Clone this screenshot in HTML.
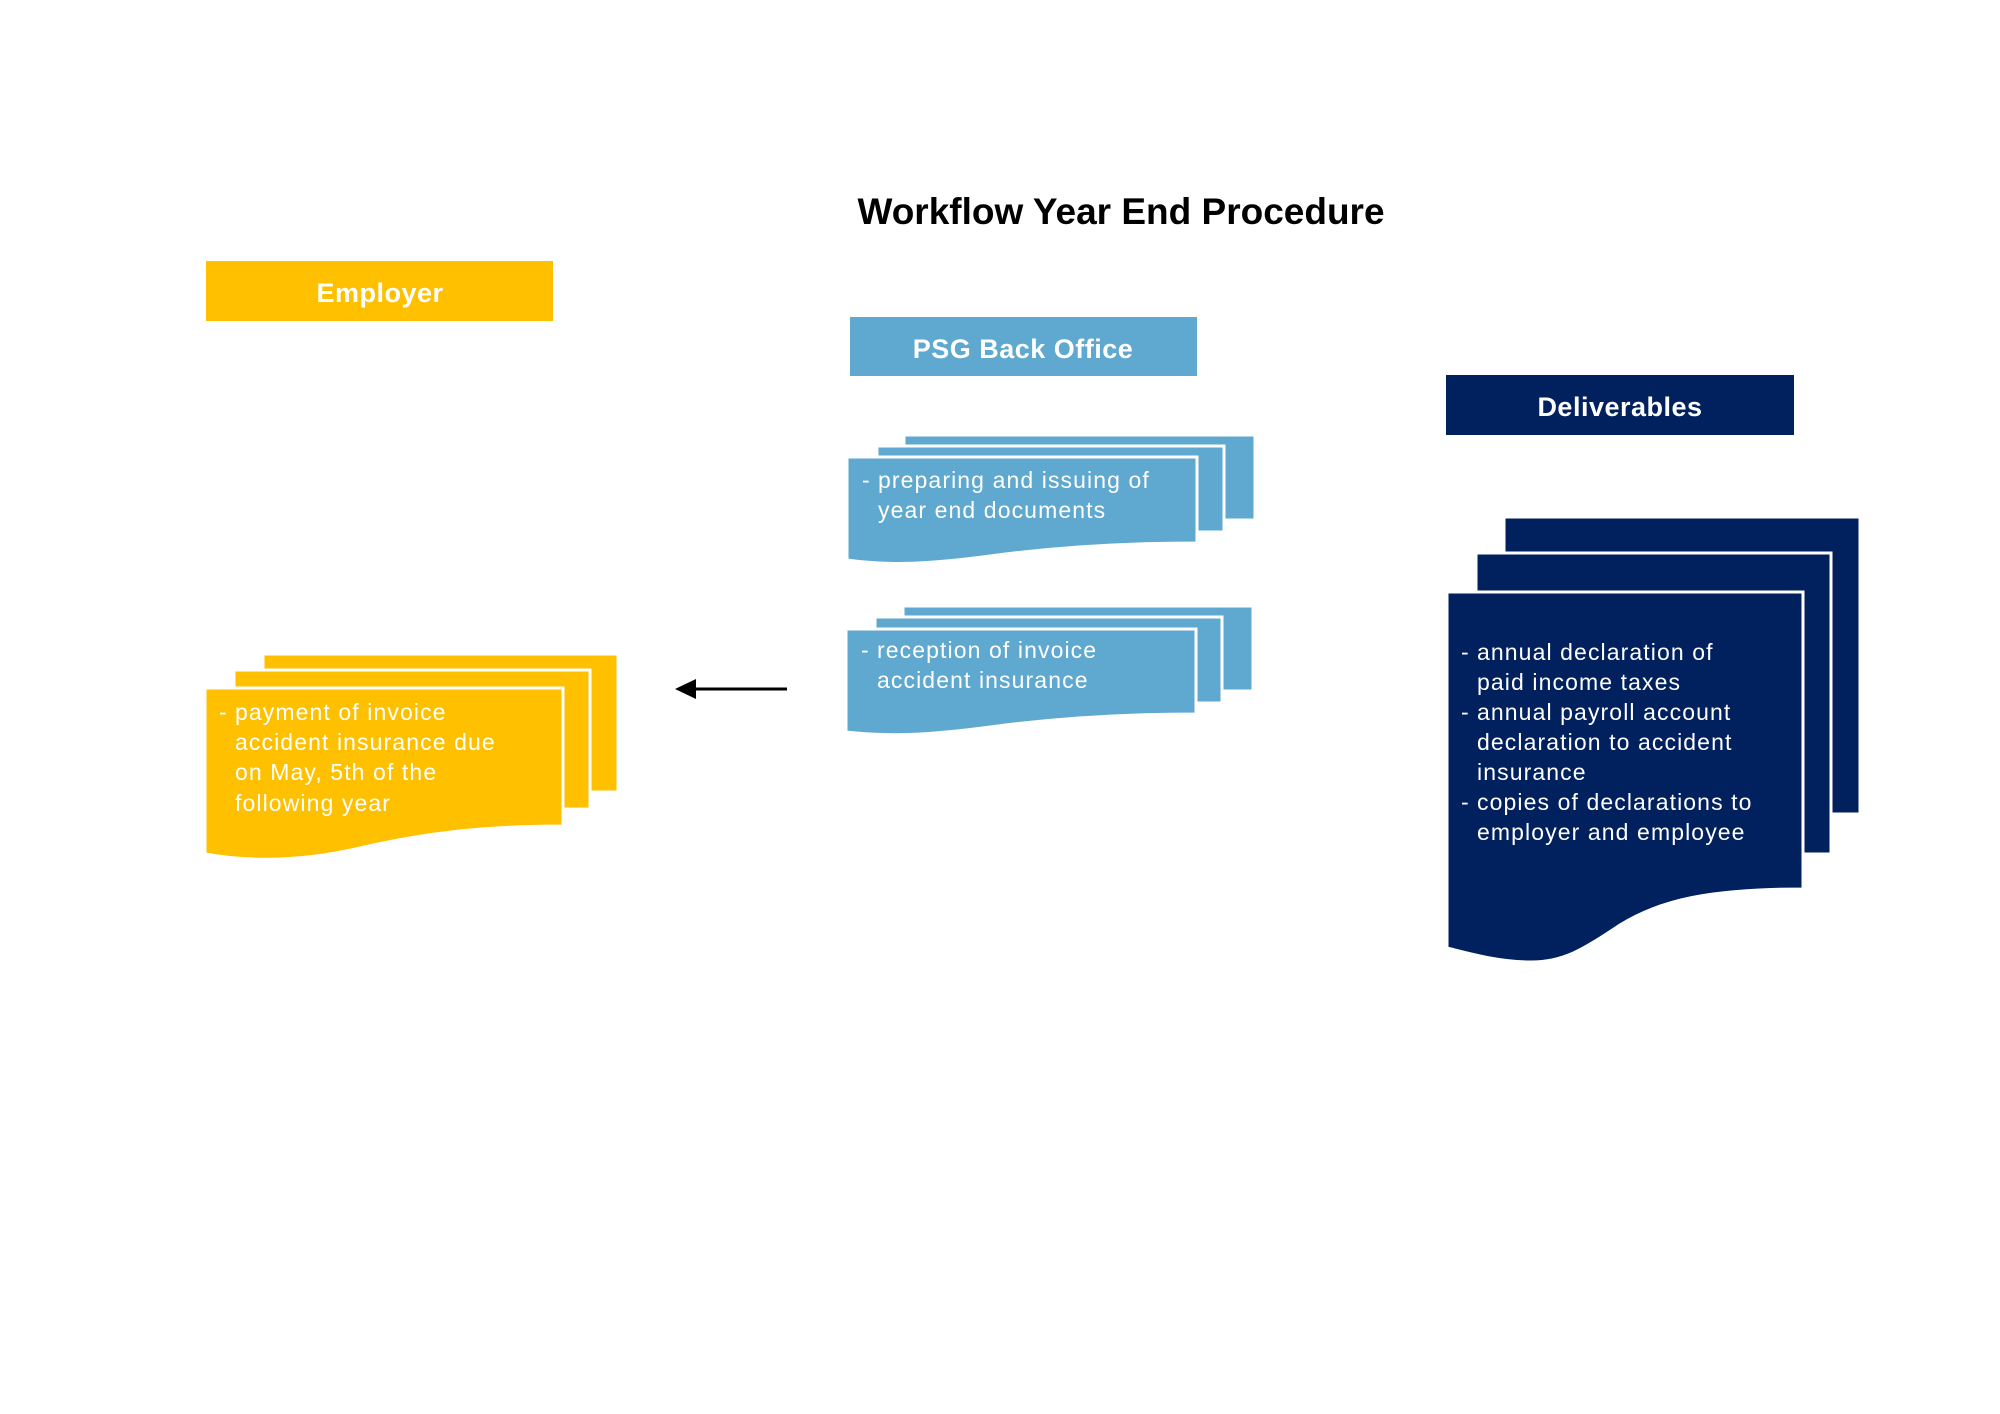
<!DOCTYPE html>
<html><head><meta charset="utf-8"><style>
html,body{margin:0;padding:0;background:#fff;}
svg{display:block;}
</style></head><body>
<svg width="2000" height="1414" viewBox="0 0 2000 1414" xmlns="http://www.w3.org/2000/svg" font-family="Liberation Sans, sans-serif">
<rect width="2000" height="1414" fill="#fff"/>
<text x="1121" y="224" font-size="37" font-weight="bold" text-anchor="middle" fill="#000">Workflow Year End Procedure</text>

<!-- Headers -->
<rect x="206" y="261" width="347" height="60" fill="#FFC000"/>
<text x="380" y="302" font-size="27" font-weight="bold" fill="#fff" text-anchor="middle" letter-spacing="0.5">Employer</text>
<rect x="850" y="317" width="347" height="59" fill="#5FA8CF"/>
<text x="1023" y="358" font-size="27" font-weight="bold" fill="#fff" text-anchor="middle" letter-spacing="0.5">PSG Back Office</text>
<rect x="1446" y="375" width="348" height="60" fill="#00205E"/>
<text x="1620" y="416" font-size="27" font-weight="bold" fill="#fff" text-anchor="middle" letter-spacing="0.5">Deliverables</text>

<!-- Yellow stack -->
<g fill="#FFC000" stroke="#fff" stroke-width="3">
<rect x="263" y="654" width="355" height="138"/>
<rect x="234" y="670" width="356" height="139"/>
<path d="M205,688 H563 V826 C480,826 420,834 360,848 C300,862 250,862 205,854 Z"/>
</g>
<g fill="#fff" font-size="23" letter-spacing="1.1">
<text x="219" y="720">-</text>
<text x="235" y="720">payment of invoice</text>
<text x="235" y="750">accident insurance due</text>
<text x="235" y="780">on May, 5th of the</text>
<text x="235" y="811">following year</text>
</g>

<!-- Arrow -->
<line x1="787" y1="689" x2="690" y2="689" stroke="#000" stroke-width="3"/>
<path d="M675,689 L696,679 L696,699 Z" fill="#000"/>

<!-- Blue stack 1 -->
<g fill="#5FA8CF" stroke="#fff" stroke-width="3">
<rect x="904" y="435" width="351" height="85"/>
<rect x="877" y="446" width="347" height="86"/>
<path d="M847,457 H1197 V543 C1120,543 1050,548 990,556 C930,564 890,566 847,560 Z"/>
</g>
<g fill="#fff" font-size="23" letter-spacing="1.1">
<text x="862" y="488">-</text>
<text x="878" y="488">preparing and issuing of</text>
<text x="878" y="518">year end documents</text>
</g>

<!-- Blue stack 2 -->
<g fill="#5FA8CF" stroke="#fff" stroke-width="3">
<rect x="903" y="606" width="350" height="85"/>
<rect x="875" y="617" width="347" height="86"/>
<path d="M846,629 H1196 V714 C1120,714 1050,719 990,727 C930,735 890,737 846,732 Z"/>
</g>
<g fill="#fff" font-size="23" letter-spacing="1.1">
<text x="861" y="658">-</text>
<text x="877" y="658">reception of invoice</text>
<text x="877" y="688">accident insurance</text>
</g>

<!-- Navy stack -->
<g fill="#00205E" stroke="#fff" stroke-width="3">
<rect x="1504" y="517" width="356" height="297"/>
<rect x="1476" y="553" width="355" height="301"/>
<path d="M1447,592 H1803 V889 C1710,889 1660,900 1620,925 C1585,948 1565,962 1531,962 C1500,962 1475,955 1447,948 Z"/>
</g>
<g fill="#fff" font-size="23" letter-spacing="1.1">
<text x="1461" y="660">-</text><text x="1477" y="660">annual declaration of</text>
<text x="1477" y="690">paid income taxes</text>
<text x="1461" y="720">-</text><text x="1477" y="720">annual payroll account</text>
<text x="1477" y="750">declaration to accident</text>
<text x="1477" y="780">insurance</text>
<text x="1461" y="810">-</text><text x="1477" y="810">copies of declarations to</text>
<text x="1477" y="840">employer and employee</text>
</g>
</svg>
</body></html>
